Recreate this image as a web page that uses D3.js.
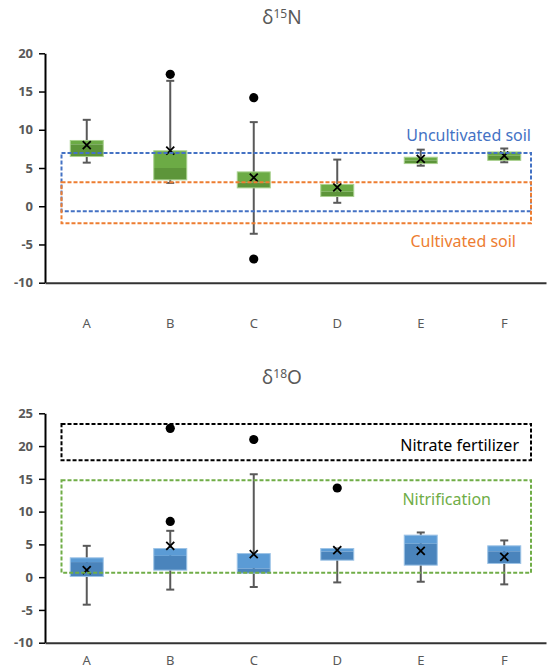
<!DOCTYPE html>
<html>
<head>
<meta charset="utf-8">
<script src="https://cdn.jsdelivr.net/npm/d3@7"></script>
<style>
  body { margin: 0; background: #fff; }
  svg { display: block; font-family: "Noto Sans", "Open Sans", sans-serif; }
</style>
</head>
<body>
<svg id="chart" width="550" height="670"></svg>
<script>
const categories = ['A', 'B', 'C', 'D', 'E', 'F'];

// δ15N box statistics
const n15Min = [5.7, 3.05, -3.6, 0.45, 5.3, 5.75];
const n15Q1 = [6.5, 3.45, 2.4, 1.27, 5.58, 6.0];
const n15Median = [8.1, 5.0, 3.1, 1.9, 6.0, 6.6];
const n15Q3 = [8.6, 7.25, 4.49, 2.84, 6.41, 7.1];
const n15Max = [11.3, 16.4, 11.0, 6.1, 7.4, 7.55];
const n15Mean = [8.0, 7.28, 3.75, 2.48, 6.19, 6.63];
const n15Outliers = [[], [17.25], [14.2, -6.9], [], [], []];
const n15Ticks = [-10, -5, 0, 5, 10, 15, 20];

// δ18O box statistics
const o18Min = [-4.2, -1.9, -1.5, -0.8, -0.7, -1.1];
const o18Q1 = [0.1, 1.07, 0.6, 2.59, 1.83, 2.09];
const o18Median = [2.3, 3.25, 1.3, 3.9, 5.1, 3.95];
const o18Q3 = [2.95, 4.37, 3.6, 4.37, 6.41, 4.78];
const o18Max = [4.78, 7.07, 15.7, 4.37, 6.82, 5.6];
const o18Mean = [1.07, 4.78, 3.5, 4.12, 4.02, 3.1];
const o18Outliers = [[], [8.5, 22.7], [21.0], [13.6], [], []];
const o18Ticks = [-10, -5, 0, 5, 10, 15, 20, 25];

// reference ranges drawn as dashed rectangles: [low, high]
const uncultivatedSoil = [-0.65, 6.97];
const cultivatedSoil = [-2.22, 3.14];
const nitrateFertilizer = [17.85, 23.35];
const nitrification = [0.66, 14.8];

const svg = d3.select('#chart');
const TEXT_GRAY = '#595959';

function drawPanel ({ top, bottom, domain, ticks, sup, tail, labelGap, stats, light, dark, edge, ranges }) {
  const x = d3.scaleBand().domain(categories).range([45, 546]);
  const y = d3.scaleLinear().domain(domain).range([bottom, top]);
  const g = svg.append('g');
  const boxW = 33;

  // title
  const t = g.append('text')
    .attr('x', 282).attr('y', top - 29)
    .attr('text-anchor', 'middle')
    .attr('fill', TEXT_GRAY)
    .style('font-size', '19px');
  t.append('tspan').text('δ');
  t.append('tspan').attr('dy', -6).style('font-size', '12px').text(sup);
  t.append('tspan').attr('dy', 6).text(tail);

  // y axis
  const yAxis = g.append('g')
    .attr('transform', 'translate(45,0)')
    .call(d3.axisLeft(y).tickValues(ticks).tickFormat(d => String(d)).tickSize(6).tickSizeOuter(0));
  yAxis.select('.domain').attr('stroke', '#000').attr('stroke-width', 2);
  yAxis.selectAll('.tick line').attr('stroke', '#000').attr('stroke-width', 1.5);
  yAxis.selectAll('.tick text')
    .attr('x', -12)
    .attr('fill', TEXT_GRAY)
    .style('font-size', '13px')
    .style('font-weight', 'bold')
    .style('font-family', '"Noto Sans", sans-serif');

  // x axis sits on the bottom of the value range
  const xAxis = g.append('g')
    .attr('transform', `translate(0,${y(domain[0])})`)
    .call(d3.axisBottom(x).tickSize(0).tickSizeOuter(0));
  xAxis.select('.domain').attr('stroke', '#333').attr('stroke-width', 2);
  xAxis.selectAll('.tick text')
    .attr('y', labelGap)
    .attr('fill', TEXT_GRAY)
    .style('font-size', '13px')
    .style('font-family', '"Noto Sans", sans-serif');

  const rows = categories.map((c, i) => ({
    c,
    min: stats.min[i],
    q1: stats.q1[i],
    median: stats.median[i],
    q3: stats.q3[i],
    max: stats.max[i],
    mean: stats.mean[i],
    outliers: stats.outliers[i]
  }));
  const cx = d => x(d.c) + x.bandwidth() / 2;

  const box = g.selectAll('.box').data(rows).enter().append('g').classed('box', true);

  // whiskers
  box.append('line')
    .attr('x1', cx).attr('x2', cx)
    .attr('y1', d => y(d.max)).attr('y2', d => y(d.min))
    .attr('stroke', TEXT_GRAY).attr('stroke-width', 2);
  [d => d.max, d => d.min].forEach(fn => {
    box.append('line')
      .attr('x1', d => cx(d) - 4).attr('x2', d => cx(d) + 4)
      .attr('y1', d => y(fn(d))).attr('y2', d => y(fn(d)))
      .attr('stroke', TEXT_GRAY).attr('stroke-width', 2);
  });

  // box halves
  box.append('rect')
    .attr('x', d => cx(d) - boxW / 2).attr('width', boxW)
    .attr('y', d => y(d.q3)).attr('height', d => y(d.median) - y(d.q3))
    .attr('fill', light);
  box.append('rect')
    .attr('x', d => cx(d) - boxW / 2).attr('width', boxW)
    .attr('y', d => y(d.median)).attr('height', d => y(d.q1) - y(d.median))
    .attr('fill', dark);
  box.append('rect')
    .attr('x', d => cx(d) - boxW / 2).attr('width', boxW)
    .attr('y', d => y(d.q3)).attr('height', d => y(d.q1) - y(d.q3))
    .attr('fill', 'none').attr('stroke', edge).attr('stroke-width', 1);

  // mean markers
  box.append('path')
    .attr('d', d => {
      const px = cx(d);
      const py = y(d.mean);
      return `M${px - 4},${py - 4}L${px + 4},${py + 4}M${px - 4},${py + 4}L${px + 4},${py - 4}`;
    })
    .attr('stroke', '#000').attr('stroke-width', 1.8);

  // outliers
  box.selectAll('.outlier')
    .data(d => d.outliers.map(v => ({ c: d.c, v })))
    .enter().append('circle')
    .classed('outlier', true)
    .attr('cx', cx).attr('cy', d => y(d.v)).attr('r', 4.6)
    .attr('fill', '#000');

  // dashed reference ranges
  const rx0 = x.range()[0] + 16.5;
  const rx1 = x.range()[1] - 15;
  ranges.forEach(r => {
    g.append('rect')
      .attr('x', rx0).attr('width', rx1 - rx0)
      .attr('y', y(r.range[1])).attr('height', y(r.range[0]) - y(r.range[1]))
      .attr('fill', 'none')
      .attr('stroke', r.color).attr('stroke-width', 2)
      .attr('stroke-dasharray', '4,2');
    g.append('text')
      .attr('x', r.labelX).attr('y', y(r.labelAt))
      .attr('text-anchor', 'end')
      .attr('fill', r.color)
      .style('font-size', '16px')
      .text(r.label);
  });
}

drawPanel({
  top: 53.3,
  bottom: 282.7,
  domain: [-10, 20],
  ticks: n15Ticks,
  sup: '15',
  tail: 'N',
  labelGap: 36,
  stats: { min: n15Min, q1: n15Q1, median: n15Median, q3: n15Q3, max: n15Max, mean: n15Mean, outliers: n15Outliers },
  light: '#6CAB45',
  dark: '#5D953A',
  edge: '#A9D18E',
  ranges: [
    { range: uncultivatedSoil, color: '#4472C4', label: 'Uncultivated soil', labelX: 531, labelAt: 8.5 },
    { range: cultivatedSoil, color: '#ED7D31', label: 'Cultivated soil', labelX: 516, labelAt: -5.3 }
  ]
});

drawPanel({
  top: 413.3,
  bottom: 642.7,
  domain: [-10, 25],
  ticks: o18Ticks,
  sup: '18',
  tail: 'O',
  labelGap: 13,
  stats: { min: o18Min, q1: o18Q1, median: o18Median, q3: o18Q3, max: o18Max, mean: o18Mean, outliers: o18Outliers },
  light: '#5B9BD5',
  dark: '#4A84BC',
  edge: '#9DC3E6',
  ranges: [
    { range: nitrateFertilizer, color: '#000', label: 'Nitrate fertilizer', labelX: 519, labelAt: 19.2 },
    { range: nitrification, color: '#70AD47', label: 'Nitrification', labelX: 491, labelAt: 11.0 }
  ]
});
</script>
</body>
</html>
